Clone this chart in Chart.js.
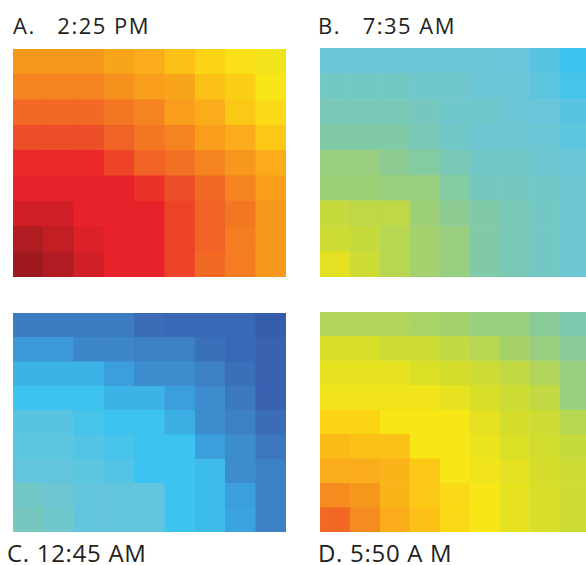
<!DOCTYPE html>
<html>
<head>
<meta charset="utf-8">
<script src="https://cdn.jsdelivr.net/npm/chart.js@4"></script>
<style>
  html, body { margin: 0; padding: 0; background: #fff; }
  body { width: 586px; height: 565px; position: relative; overflow: hidden; }
  canvas { position: absolute; }
  .title {
    position: absolute; white-space: pre; color: #231f20;
    font-family: "Open Sans", sans-serif;
  }
  .top { font-size: 22px; line-height: 22px; top: 14px; letter-spacing: 1.5px; }
  .bottom { font-size: 24px; line-height: 24px; top: 541px; letter-spacing: 0.7px; }
</style>
</head>
<body>
<div class="title top" style="left:13px">A.   2:25 PM</div>
<div class="title top" style="left:318px">B.   7:35 AM</div>
<div class="title bottom" style="left:7px">C. 12:45 AM</div>
<div class="title bottom" style="left:318px">D. 5:50 A M</div>

<canvas id="chartA" width="273" height="228" style="left:13px;top:49px"></canvas>
<canvas id="chartB" width="270" height="229" style="left:320px;top:48px"></canvas>
<canvas id="chartC" width="273" height="219" style="left:13px;top:313px"></canvas>
<canvas id="chartD" width="270" height="220" style="left:320px;top:312px"></canvas>

<script>
// grid columns (left to right)
const columns = ["1", "2", "3", "4", "5", "6", "7", "8", "9"];

// cell values on a 0-100 colour index, rows listed top to bottom
const panelA = [
  [80, 80, 80, 78, 77, 74, 71, 69, 67],
  [83, 83, 83, 81, 79, 78, 74, 72, 68],
  [87, 87, 87, 85, 83, 79, 77, 73, 70],
  [90, 90, 90, 88, 85, 83, 79, 77, 73],
  [94, 94, 94, 91, 88, 86, 83, 80, 77],
  [95, 95, 95, 95, 93, 90, 87, 83, 79],
  [97, 97, 95, 95, 95, 91, 88, 85, 80],
  [99, 98, 96, 95, 95, 91, 88, 84, 80],
  [100, 99, 97, 95, 95, 91, 87, 84, 80]
];

const panelB = [
  [41, 41, 41, 41, 41, 41, 40, 37, 32],
  [45, 45, 45, 43, 43, 41, 41, 38, 34],
  [47, 47, 47, 46, 43, 43, 41, 40, 37],
  [49, 49, 49, 47, 44, 42, 42, 41, 38],
  [54, 54, 52, 50, 47, 44, 44, 42, 41],
  [55, 55, 54, 54, 50, 46, 46, 44, 42],
  [61, 60, 60, 55, 52, 49, 47, 45, 42],
  [62, 61, 59, 56, 54, 49, 47, 45, 42],
  [65, 62, 59, 56, 54, 49, 47, 45, 42]
];

const panelC = [
  [13, 13, 13, 13, 8, 7, 7, 7, 2],
  [21, 21, 16, 16, 14, 14, 9, 7, 4],
  [28, 28, 28, 23, 18, 18, 14, 9, 4],
  [32, 32, 32, 28, 28, 23, 18, 12, 4],
  [37, 37, 34, 32, 32, 27, 18, 14, 8],
  [38, 38, 36, 34, 32, 32, 23, 18, 11],
  [39, 39, 38, 36, 32, 32, 30, 18, 14],
  [44, 42, 39, 39, 39, 32, 30, 23, 14],
  [46, 43, 39, 39, 39, 32, 30, 24, 14]
];

const panelD = [
  [58, 58, 58, 57, 56, 54, 54, 51, 48],
  [63.5, 63.5, 62, 62, 60.5, 59, 56.5, 54, 51],
  [65.5, 65.5, 65.5, 64, 63, 62, 60.5, 58, 54],
  [67, 67, 67, 67, 65.5, 63.5, 62, 60.5, 54],
  [71, 71, 68, 68, 68, 65, 63, 62, 59],
  [75, 74, 74, 68, 68, 66, 64, 62.5, 61],
  [77, 77, 76, 73, 68, 67, 65, 63, 62],
  [82, 80, 76, 73, 70, 68, 65.5, 63.5, 62],
  [87, 82, 77, 74, 70, 68, 65.5, 63.5, 62]
];

// colour scale: index -> colour
const scaleStops = [0, 8, 16, 24, 32, 40, 46, 52, 58, 63, 68, 73, 78, 83, 88, 92, 95, 98, 100];
const scaleColors = ["#3556a8", "#3a6cb8", "#3d86c9", "#3ba3de", "#3cc3ef", "#69c5da", "#76c8be",
  "#8ccc92", "#b0d45c", "#d4de2a", "#f9e616", "#fcc816", "#f9a51b", "#f58420", "#f06225",
  "#ec3a28", "#e8222a", "#c41e25", "#9e1a1e"];

function hexToRgb(h) {
  return [1, 3, 5].map(i => parseInt(h.slice(i, i + 2), 16));
}

function colorFor(v) {
  let i = 0;
  while (i < scaleStops.length - 2 && v > scaleStops[i + 1]) i++;
  const t = Math.min(1, Math.max(0, (v - scaleStops[i]) / (scaleStops[i + 1] - scaleStops[i])));
  const a = hexToRgb(scaleColors[i]), b = hexToRgb(scaleColors[i + 1]);
  const c = a.map((x, k) => Math.round(x + (b[k] - x) * t));
  return `rgb(${c[0]},${c[1]},${c[2]})`;
}

function drawPanel(id, grid) {
  // stacked bars build from the bottom, so start with the last row
  const datasets = grid.slice().reverse().map(row => ({
    data: row.map(() => 1),
    backgroundColor: row.map(colorFor),
    borderColor: row.map(colorFor),
    borderWidth: 0.6,
    borderSkipped: false,
    barPercentage: 1,
    categoryPercentage: 1
  }));

  new Chart(document.getElementById(id), {
    type: "bar",
    data: { labels: columns, datasets },
    options: {
      responsive: false,
      animation: false,
      layout: { padding: 0 },
      plugins: { legend: { display: false }, tooltip: { enabled: false } },
      scales: {
        x: { stacked: true, display: false },
        y: { stacked: true, display: false, min: 0, max: grid.length }
      }
    }
  });
}

drawPanel("chartA", panelA);
drawPanel("chartB", panelB);
drawPanel("chartC", panelC);
drawPanel("chartD", panelD);
</script>
</body>
</html>
